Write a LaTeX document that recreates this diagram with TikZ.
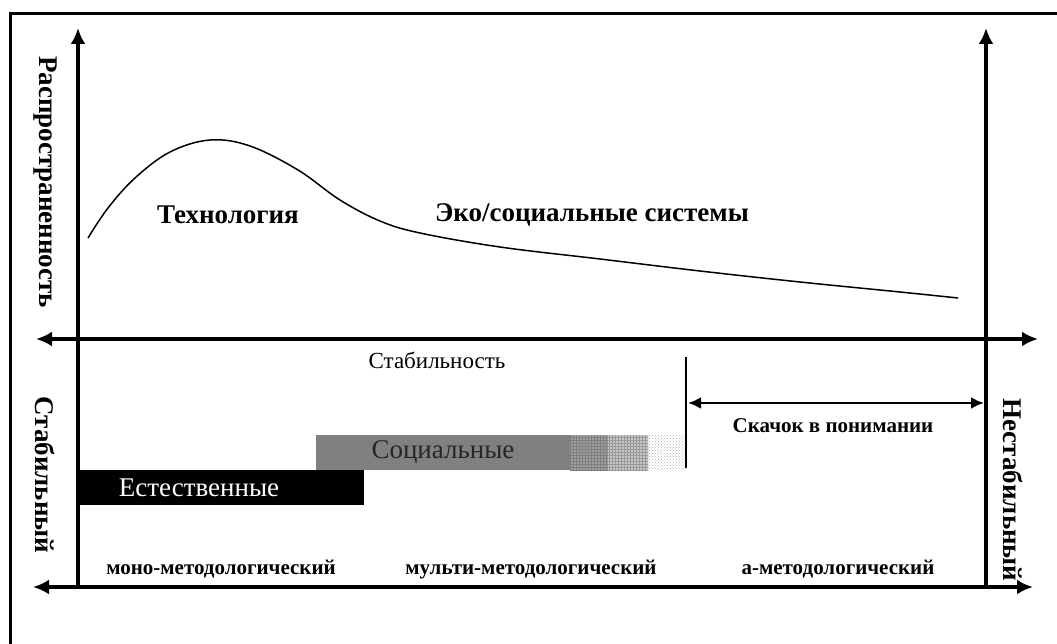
\documentclass[tikz,border=0pt]{standalone}
\usepackage{fontspec}
\setmainfont{Liberation Serif}
\usetikzlibrary{arrows.meta}
\usetikzlibrary{patterns}

\begin{document}
\begin{tikzpicture}[x=1pt, y=-1pt]
		\tikzset{axis/.style={line width=3.5pt, -{Latex[length=16pt, width=15pt]}}}
		\tikzset{twoaxis/.style={line width=3.5pt, {Latex[length=16pt, width=15pt]}-{Latex[length=16pt, width=15pt]}}}
		\tikzset{label/.style={font=\fontsize{27}{30}\selectfont\bfseries}}
		\tikzset{small/.style={font=\fontsize{21}{24}\selectfont\bfseries, anchor=base}}
		\tikzset{plain/.style={font=\fontsize{23}{26}\selectfont}}
		\tikzset{bartext/.style={font=\fontsize{27}{30}\selectfont}}
		\useasboundingbox (0,0) rectangle (1057,644);
		%frame
		\draw[line width=3pt] (10,644) -- (10,14) -- (1057,14);
		%axes ends
		\coordinate (ltop) at (78,28);
		\coordinate (lbot) at (78,587);
		\coordinate (rtop) at (986,28);
		\coordinate (rbot) at (986,587);
		\coordinate (mleft) at (36,339);
		\coordinate (mright) at (1038,339);
		\coordinate (bleft) at (33,587);
		\coordinate (bright) at (1033,587);
		%bars
		\fill[black] (78,470) rectangle (364,505);
		\fill[gray] (316,435) rectangle (570,470);
		\fill[gray!75] (570,435) rectangle (608,470);
		\fill[pattern=grid, pattern color=gray] (570,435) rectangle (608,470);
		\fill[gray!45] (608,435) rectangle (648,470);
		\fill[pattern=grid, pattern color=gray!80] (608,435) rectangle (648,470);
		\fill[pattern=crosshatch dots, pattern color=gray!60] (648,435) rectangle (686,470);
		%axes
		\draw[axis] (lbot) -- (ltop);
		\draw[axis] (rbot) -- (rtop);
		\draw[twoaxis] (mleft) -- (mright);
		\draw[twoaxis] (bleft) -- (bright);
		%curve
		\draw[line width=1.5pt] plot[smooth, tension=0.6] coordinates {(88,238) (108,208) (135,178) (170,152) (210,140) (250,146) (298,170) (340,200) (380,221) (420,233) (500,247) (600,259) (700,271) (800,282) (900,292) (958,298)};
		%leap
		\coordinate (cut) at (686,357);
		\coordinate (cutend) at (686,468);
		\draw[line width=2pt] (cut) -- (cutend);
		\coordinate (lstart) at (688,403);
		\coordinate (lend) at (984,403);
		\draw[line width=2.5pt, {Latex[length=13pt, width=12pt]}-{Latex[length=13pt, width=12pt]}] (lstart) -- (lend);
		%labels
		\node[label, rotate=-90] (spread) at (45,182) {Распространенность};
		\node[label, rotate=-90] (stable) at (45,475) {Стабильный};
		\node[label, rotate=-90] (unstable) at (1013,490) {Нестабильный};
		\node[label] (tech) at (228,215) {Технология};
		\node[label] (eco) at (592,215) {Эко/социальные системы};
		\node[plain] (stab) at (437,360) {Стабильность};
		\node[small] (leap) at (833,432) {Скачок в понимании};
		\node[bartext, text=white] (nat) at (199,488) {Естественные};
		\node[bartext, text=black!85] (soc) at (443,452) {Социальные};
		\node[small] (mono) at (221,574) {моно-методологический};
		\node[small] (multi) at (531,574) {мульти-методологический};
		\node[small] (ameth) at (838,574) {а-методологический};
\end{tikzpicture}
\end{document}
